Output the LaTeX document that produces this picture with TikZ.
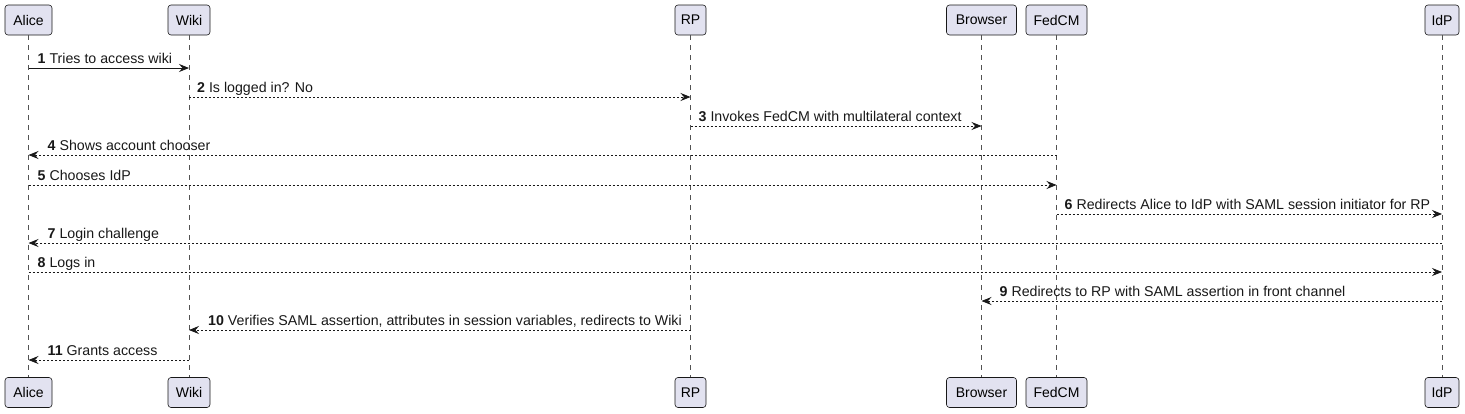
\documentclass[tikz,border=0pt]{standalone}
\usepackage{fontspec}
\setmainfont{Liberation Sans}
\usetikzlibrary{arrows.meta}
\definecolor{boxfill}{HTML}{E2E2F0}
\definecolor{ink}{HTML}{181818}
\tikzset{
  actor/.style={draw=ink, fill=boxfill, rounded corners=3pt, minimum height=30pt, inner sep=0pt, line width=0.6pt, font=\fontsize{14}{16}\selectfont},
  lifeline/.style={draw=ink!75, line width=0.5pt, dash pattern=on 5pt off 5pt},
  msg/.style={draw=ink, line width=0.8pt, -{Stealth[length=10pt, width=8pt, inset=3.5pt]}},
  reply/.style={msg, dash pattern=on 2pt off 2pt},
  lbl/.style={inner sep=0pt, anchor=base west, text=ink, font=\fontsize{14.2}{16}\selectfont}
}

\begin{document}
\begin{tikzpicture}[x=1pt, y=-1pt]
\useasboundingbox (0,0) rectangle (1465,413);

% participants, top and bottom
\node[actor, minimum width=47pt] (alice) at (28.5,20) {Alice};
\node[actor, minimum width=42pt] (wiki) at (189,20) {Wiki};
\node[actor, minimum width=31pt] (rp) at (690.5,20) {RP};
\node[actor, minimum width=70pt] (browser) at (981.5,20) {Browser};
\node[actor, minimum width=61pt] (fedcm) at (1056.5,20) {FedCM};
\node[actor, minimum width=34pt] (idp) at (1442,20) {IdP};

\node[actor, minimum width=47pt] (alice2) at (28.5,392.5) {Alice};
\node[actor, minimum width=42pt] (wiki2) at (189,392.5) {Wiki};
\node[actor, minimum width=31pt] (rp2) at (690.5,392.5) {RP};
\node[actor, minimum width=70pt] (browser2) at (981.5,392.5) {Browser};
\node[actor, minimum width=61pt] (fedcm2) at (1056.5,392.5) {FedCM};
\node[actor, minimum width=34pt] (idp2) at (1442,392.5) {IdP};

\draw[lifeline] (alice) -- (alice2);
\draw[lifeline] (wiki) -- (wiki2);
\draw[lifeline] (rp) -- (rp2);
\draw[lifeline] (browser) -- (browser2);
\draw[lifeline] (fedcm) -- (fedcm2);
\draw[lifeline] (idp) -- (idp2);

% messages
\draw[msg] (alice |- 0,68) -- (wiki |- 0,68);
\node[lbl] (m1) at ([xshift=9pt]alice |- 0,63) {\textbf{1} Tries to access wiki};

\draw[reply] (wiki |- 0,97) -- (rp |- 0,97);
\node[lbl] (m2) at ([xshift=8pt]wiki |- 0,92) {\textbf{2} Is logged in? No};

\draw[reply] (rp |- 0,126) -- (browser |- 0,126);
\node[lbl] (m3) at ([xshift=8pt]rp |- 0,121) {\textbf{3} Invokes FedCM with multilateral context};

\draw[reply] (fedcm |- 0,155) -- (alice |- 0,155);
\node[lbl] (m4) at ([xshift=19pt]alice |- 0,150) {\textbf{4} Shows account chooser};

\draw[reply] (alice |- 0,185) -- (fedcm |- 0,185);
\node[lbl] (m5) at ([xshift=9pt]alice |- 0,180) {\textbf{5} Chooses IdP};

\draw[reply] (fedcm |- 0,214) -- (idp |- 0,214);
\node[lbl] (m6) at ([xshift=8pt]fedcm |- 0,209) {\textbf{6} Redirects Alice to IdP with SAML session initiator for RP};

\draw[reply] (idp |- 0,243) -- (alice |- 0,243);
\node[lbl] (m7) at ([xshift=19pt]alice |- 0,238) {\textbf{7} Login challenge};

\draw[reply] (alice |- 0,272) -- (idp |- 0,272);
\node[lbl] (m8) at ([xshift=9pt]alice |- 0,267) {\textbf{8} Logs in};

\draw[reply] (idp |- 0,301) -- (browser |- 0,301);
\node[lbl] (m9) at ([xshift=18pt]browser |- 0,296) {\textbf{9} Redirects to RP with SAML assertion in front channel};

\draw[reply] (rp |- 0,330) -- (wiki |- 0,330);
\node[lbl] (m10) at ([xshift=19pt]wiki |- 0,325) {\textbf{10} Verifies SAML assertion, attributes in session variables, redirects to Wiki};

\draw[reply] (wiki |- 0,360) -- (alice |- 0,360);
\node[lbl] (m11) at ([xshift=19pt]alice |- 0,355) {\textbf{11} Grants access};
\end{tikzpicture}
\end{document}
